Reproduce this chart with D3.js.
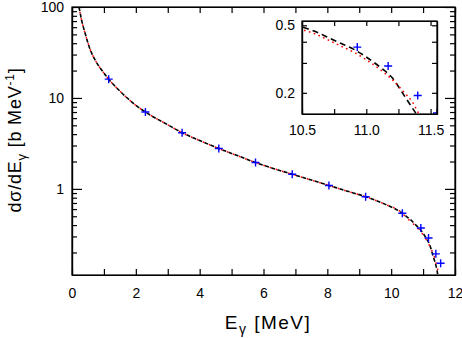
<!DOCTYPE html>
<html>
<head>
<meta charset="utf-8">
<script src="https://cdn.jsdelivr.net/npm/d3@7"></script>
<style>
  body { margin: 0; background: #fff; }
  text { font-family: "Liberation Sans", Arial, sans-serif; fill: #000; }
</style>
</head>
<body>
<div id="chart-area"></div>
<script>
// calculated spectra (two models) on a common energy grid
var energy = [0.22, 0.3, 0.4, 0.575, 0.75, 1.0, 1.15, 1.5, 2.0, 2.3, 3.0, 3.45, 4.0, 4.6, 5.2, 5.75,
              6.3, 6.9, 7.5, 8.05, 8.6, 9.2, 9.8, 10.35, 10.5, 10.6, 10.7, 10.8, 10.9, 11.0, 11.1,
              11.2, 11.3, 11.36, 11.4, 11.44, 11.48];
var calcDashed = [100, 72, 53, 33.7, 25.2, 18.8, 16.1, 11.9, 8.3, 7.0, 5.07, 4.15, 3.4, 2.78, 2.31, 1.95,
                  1.68, 1.45, 1.25, 1.09, 0.95, 0.82, 0.68, 0.54, 0.49, 0.461, 0.425, 0.392, 0.362, 0.325, 0.286,
                  0.246, 0.19, 0.162, 0.145, 0.125, 0.10];
var calcDotted = [100, 72, 53, 33.7, 25.2, 18.8, 16.1, 11.9, 8.3, 7.0, 5.07, 4.15, 3.4, 2.78, 2.31, 1.95,
                  1.68, 1.45, 1.25, 1.09, 0.95, 0.82, 0.68, 0.54, 0.473, 0.446, 0.411, 0.378, 0.348, 0.313, 0.277,
                  0.240, 0.199, 0.176, 0.155, 0.138, 0.12];
// measured points
var dataE = [1.15, 2.3, 3.45, 4.6, 5.75, 6.9, 8.05, 9.2, 10.35, 10.93, 11.17, 11.4, 11.55];
var dataY = [16.1, 7.0, 4.15, 2.78, 1.95, 1.45, 1.09, 0.82, 0.54, 0.372, 0.288, 0.193, 0.152];

var xTicks = [0, 2, 4, 6, 8, 10, 12];
var yTicks = [1, 10, 100];
var insetXTicks = [10.5, 11.0, 11.5];
var insetYTicks = [0.2, 0.5];

var W = 462, H = 338;
var svg = d3.select("#chart-area").append("svg")
            .attr("width", W)
            .attr("height", H);

var x = d3.scaleLinear().domain([0, 12]).range([72, 455]);
var y = d3.scaleLog().domain([0.113, 100]).range([275, 7]);

var minorY = [];
[0.1, 1, 10].forEach(function(dec) {
  for (var k = 2; k <= 9; k++) minorY.push(dec * k);
});
minorY = minorY.filter(function(v) { return v > 0.113 && v < 100; });

var pts = energy.map(function(e, i) { return { e: e, a: calcDashed[i], b: calcDotted[i] }; });
var meas = dataE.map(function(e, i) { return { e: e, v: dataY[i] }; });

function drawAxes(g, xs, ys, xMajor, xAll, yMajor, yMinor, fmtX, fmtY, fs, padX, padY, tickX, tickYMaj, tickYMin) {
  var x0 = xs.range()[0], x1 = xs.range()[1], y0 = ys.range()[0], y1 = ys.range()[1];
  g.append("g").attr("transform", "translate(0," + y0 + ")")
    .call(d3.axisBottom(xs).tickValues(xAll).tickSize(-tickX).tickSizeOuter(0).tickPadding(padX)
      .tickFormat(function(d) { return xMajor.some(function(m) { return Math.abs(m - d) < 1e-9; }) ? fmtX(d) : ""; }));
  g.append("g").attr("transform", "translate(0," + y1 + ")")
    .call(d3.axisTop(xs).tickValues(xAll).tickSize(-tickX).tickSizeOuter(0).tickFormat(""));
  g.append("g").attr("transform", "translate(" + x0 + ",0)")
    .call(d3.axisLeft(ys).tickValues(yMajor).tickSize(-tickYMaj).tickSizeOuter(0).tickPadding(padY).tickFormat(fmtY));
  g.append("g").attr("transform", "translate(" + x0 + ",0)")
    .call(d3.axisLeft(ys).tickValues(yMinor).tickSize(-tickYMin).tickSizeOuter(0).tickFormat(""));
  g.append("g").attr("transform", "translate(" + x1 + ",0)")
    .call(d3.axisRight(ys).tickValues(yMajor).tickSize(-tickYMaj).tickSizeOuter(0).tickFormat(""));
  g.append("g").attr("transform", "translate(" + x1 + ",0)")
    .call(d3.axisRight(ys).tickValues(yMinor).tickSize(-tickYMin).tickSizeOuter(0).tickFormat(""));
  g.selectAll(".tick line").attr("stroke", "#000").attr("stroke-width", 1.2);
  g.selectAll(".domain").attr("stroke", "#000").attr("stroke-width", 1.2);
  g.selectAll(".tick text").attr("font-size", fs).attr("font-family", "Liberation Sans, Arial, sans-serif").attr("fill", "#000");
  g.append("rect").attr("x", x0).attr("y", y1).attr("width", x1 - x0).attr("height", y0 - y1)
   .attr("fill", "none").attr("stroke", "#000").attr("stroke-width", 1.2);
}

function drawData(g, xs, ys, clipId, dashA, dashB, offB, crossSize) {
  var x0 = xs.range()[0], x1 = xs.range()[1], y0 = ys.range()[0], y1 = ys.range()[1];
  svg.append("clipPath").attr("id", clipId).append("rect")
     .attr("x", x0).attr("y", y1).attr("width", x1 - x0).attr("height", y0 - y1);
  var c = g.append("g").attr("clip-path", "url(#" + clipId + ")");
  var lineA = d3.line().x(function(d) { return xs(d.e); }).y(function(d) { return ys(d.a); }).curve(d3.curveMonotoneX);
  var lineB = d3.line().x(function(d) { return xs(d.e); }).y(function(d) { return ys(d.b); }).curve(d3.curveMonotoneX);
  c.append("path").datum(pts).attr("d", lineA).attr("fill", "none")
   .attr("stroke", "#000").attr("stroke-width", 1.6).attr("stroke-dasharray", dashA);
  c.append("path").datum(pts).attr("d", lineB).attr("fill", "none")
   .attr("stroke", "#ff0000").attr("stroke-width", 1.7).attr("stroke-dasharray", dashB)
   .attr("stroke-dashoffset", offB).attr("stroke-linecap", "round");
  var s = crossSize / 2;
  c.selectAll("path.cross").data(meas).enter().append("path")
   .attr("class", "cross")
   .attr("d", function(d) {
     var cx = xs(d.e), cy = ys(d.v);
     return "M" + (cx - s) + "," + cy + "H" + (cx + s) + "M" + cx + "," + (cy - s) + "V" + (cy + s);
   })
   .attr("stroke", "#0000ff").attr("stroke-width", 1.4).attr("fill", "none");
}

// main panel
var main = svg.append("g");
drawData(main, x, y, "clipMain", "4,2.5", "0.1,6.4", 1, 8);
drawAxes(main, x, y, xTicks, d3.range(0, 13), yTicks, minorY,
         function(d) { return d; }, function(d) { return d; }, 14, 13, 8, 6, 10, 5);

// axis titles
svg.append("text").attr("x", 268).attr("y", 329).attr("text-anchor", "middle").attr("font-size", 19)
   .attr("letter-spacing", 1.5)
   .html('E<tspan dy="5" font-size="14">γ</tspan><tspan dy="-5"> [MeV]</tspan>');
svg.append("text").attr("transform", "translate(21,140) rotate(-90)").attr("text-anchor", "middle").attr("font-size", 18)
   .attr("letter-spacing", 0.8)
   .html('dσ/dE<tspan dy="5" font-size="13">γ</tspan><tspan dy="-5"> [b MeV</tspan><tspan dy="-7" font-size="12">-1</tspan><tspan dy="7">]</tspan>');

// inset
var xi = d3.scaleLinear().domain([10.5, 11.55]).range([302, 437]);
var yi = d3.scaleLog().domain([0.15, 0.53]).range([114, 21]);
var inset = svg.append("g");
inset.append("rect").attr("x", 302).attr("y", 21).attr("width", 135).attr("height", 93).attr("fill", "#fff");
drawData(inset, xi, yi, "clipInset", "6,4", "0.1,5", 0, 8);
drawAxes(inset, xi, yi, insetXTicks, [10.5, 10.75, 11.0, 11.25, 11.5], insetYTicks, [0.3, 0.4],
         d3.format(".1f"), d3.format(".1f"), 14, 11, 7, 5, 5, 5);
</script>
</body>
</html>
